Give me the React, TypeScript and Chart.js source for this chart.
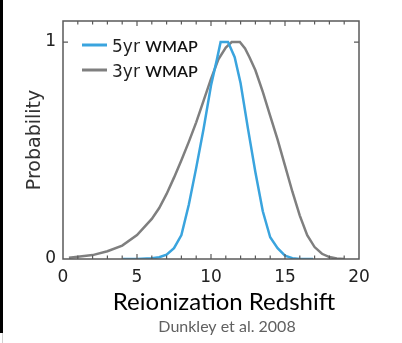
import React, { useEffect, useRef } from "react";
import { Chart, registerables } from "chart.js";

Chart.register(...registerables);

// ---- data ----
const seriesLabels = ["5yr WMAP", "3yr WMAP"];
const blue5X = [4.05, 5, 6, 6.5, 7, 7.5, 8, 8.5, 9, 9.5, 10, 10.4, 10.65, 11.15, 11.6, 12, 12.5, 13, 13.5, 14, 14.5, 15, 15.5, 16, 16.9];
const blue5Y = [0, 0, 0.003, 0.008, 0.02, 0.05, 0.11, 0.25, 0.42, 0.6, 0.8, 0.92, 1.0, 1.0, 0.93, 0.81, 0.6, 0.4, 0.22, 0.1, 0.05, 0.015, 0.004, 0, 0];
const gray3X = [0.4, 1, 2, 3, 4, 5, 6, 6.5, 7, 7.5, 8, 8.5, 9, 9.5, 10, 10.5, 11, 11.4, 11.95, 12.3, 12.6, 13, 13.5, 14, 14.5, 15, 15.5, 16, 16.5, 17, 17.5, 18, 18.5, 19];
const gray3Y = [0.006, 0.01, 0.018, 0.036, 0.062, 0.11, 0.185, 0.235, 0.3, 0.375, 0.455, 0.54, 0.63, 0.73, 0.83, 0.92, 0.975, 1.0, 1.0, 0.97, 0.93, 0.87, 0.77, 0.66, 0.55, 0.43, 0.31, 0.2, 0.11, 0.055, 0.024, 0.009, 0.002, 0];
const xTickValues = [0, 5, 10, 15, 20];
const yTickValues = [0, 1];
const xTitle = "Reionization Redshift";
const yTitle = "Probability";
const sourceNote = "Dunkley et al. 2008";

const BLUE = "#3aa4de";
const GRAY = "#7f7f7f";

const toPoints = (xs: number[], ys: number[]) => xs.map((x, i) => ({ x, y: ys[i] }));

const framePlugin = {
  id: "framePlugin",
  beforeDraw(chart: any) {
    const ctx = chart.ctx;
    ctx.save();
    ctx.fillStyle = "#000";
    ctx.fillRect(0, 0, 3, 333);
    ctx.fillStyle = "#d0d0d0";
    ctx.fillRect(2, 333, 1, 10);
    ctx.restore();
  },
  afterDraw(chart: any) {
    const ctx = chart.ctx;
    const { left, right, top, bottom } = chart.chartArea;
    const xs = chart.scales.x;
    const ys = chart.scales.y;
    ctx.save();
    ctx.strokeStyle = "#5a5a5a";
    ctx.lineWidth = 1.5;
    ctx.strokeRect(left, top, right - left, bottom - top);
    ctx.lineWidth = 1.2;
    ctx.beginPath();
    for (let v = 1; v < 20; v++) {
      const px = xs.getPixelForValue(v);
      const len = v % 5 === 0 ? 5 : 3.5;
      ctx.moveTo(px, bottom);
      ctx.lineTo(px, bottom - len);
      ctx.moveTo(px, top);
      ctx.lineTo(px, top + len);
    }
    const py = ys.getPixelForValue(1);
    ctx.moveTo(left, py);
    ctx.lineTo(left + 5, py);
    ctx.moveTo(right, py);
    ctx.lineTo(right - 5, py);
    ctx.stroke();

    // legend
    const ds = chart.data.datasets;
    const rows = [45, 70];
    ds.forEach((d: any, i: number) => {
      const y = rows[i];
      ctx.strokeStyle = d.borderColor;
      ctx.lineWidth = 3;
      ctx.beginPath();
      ctx.moveTo(82, y);
      ctx.lineTo(107, y);
      ctx.stroke();
      const label: string = d.label;
      const sp = label.indexOf(" ");
      const first = label.slice(0, sp + 1);
      const rest = label.slice(sp + 1);
      ctx.fillStyle = "#222";
      ctx.textBaseline = "alphabetic";
      ctx.textAlign = "left";
      ctx.font = "17px 'DejaVu Sans'";
      ctx.fillText(first, 112, y + 7);
      const w = ctx.measureText(first).width;
      ctx.fillStyle = "#111";
      ctx.font = "600 16px Lato";
      ctx.fillText(rest, 112 + w, y + 7);
    });

    // x-axis title and source note
    ctx.textAlign = "center";
    ctx.textBaseline = "alphabetic";
    ctx.fillStyle = "#000";
    ctx.font = "24px Lato";
    ctx.fillText(xTitle, 224, 310);
    ctx.fillStyle = "#616161";
    ctx.font = "16px Lato";
    ctx.fillText(sourceNote, 227, 332);
    ctx.restore();
  },
};

export default function App() {
  const ref = useRef<HTMLCanvasElement | null>(null);
  useEffect(() => {
    if (!ref.current) return;
    const chart = new Chart(ref.current, {
      type: "line",
      data: {
        datasets: [
          {
            label: seriesLabels[0],
            data: toPoints(blue5X, blue5Y),
            borderColor: BLUE,
            borderWidth: 2.5,
            pointRadius: 0,
            tension: 0,
          },
          {
            label: seriesLabels[1],
            data: toPoints(gray3X, gray3Y),
            borderColor: GRAY,
            borderWidth: 2.5,
            pointRadius: 0,
            tension: 0,
          },
        ],
      },
      options: {
        animation: false,
        responsive: false,
        layout: { padding: { top: 21, right: 43, left: 0, bottom: 0 } },
        plugins: {
          legend: { display: false },
          tooltip: { enabled: false },
        },
        scales: {
          x: {
            type: "linear",
            min: 0,
            max: 20,
            grid: { display: false, drawTicks: false },
            border: { display: false },
            afterBuildTicks: (s: any) => {
              s.ticks = xTickValues.map((v) => ({ value: v }));
            },
            afterFit: (s: any) => {
              s.height = 84;
            },
            ticks: {
              padding: 8,
              color: "#222",
              font: { family: "DejaVu Sans", size: 17 },
              maxRotation: 0,
            },
          },
          y: {
            type: "linear",
            min: 0,
            max: 1.097,
            grid: { display: false, drawTicks: false },
            border: { display: false },
            afterBuildTicks: (s: any) => {
              s.ticks = yTickValues.map((v) => ({ value: v }));
            },
            afterFit: (s: any) => {
              s.width = 63;
            },
            ticks: {
              padding: 7,
              color: "#222",
              font: { family: "DejaVu Sans", size: 17 },
            },
            title: {
              display: true,
              text: yTitle,
              color: "#333",
              font: { family: "DejaVu Sans", size: 19 },
              padding: { top: 24, bottom: 0 },
            },
          },
        },
      },
      plugins: [framePlugin],
    } as any);
    return () => chart.destroy();
  }, []);
  return (
    <div style={{ position: "fixed", left: 0, top: 0, width: 402, height: 343, background: "#fff" }}>
      <canvas ref={ref} width={402} height={343} style={{ width: 402, height: 343 }} />
    </div>
  );
}
